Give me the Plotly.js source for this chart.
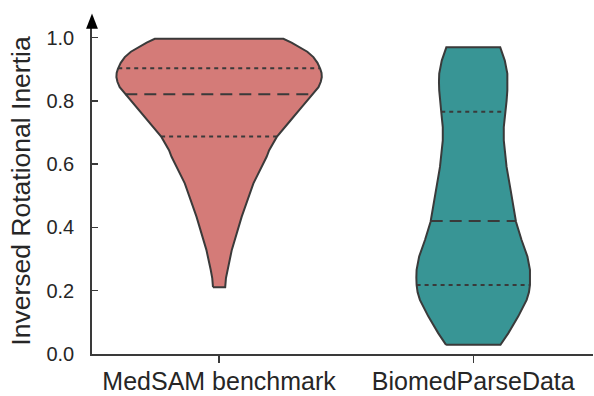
<!DOCTYPE html>
<html>
<head>
<meta charset="utf-8">
<script src="https://cdn.plot.ly/plotly-3.0.1.min.js"></script>
<style>html,body{margin:0;padding:0;background:#fff;overflow:hidden}</style>
</head>
<body>
<div id="chart" style="width:594px;height:396px"></div>
<script>
// Categories
const categories = ["MedSAM benchmark", "BiomedParseData"];

// Density profile: value levels (y) and half-widths (in category units)
const medsamLevels = [0.211, 0.240, 0.266, 0.329, 0.434, 0.539, 0.623, 0.644, 0.686, 0.737, 0.780, 0.819, 0.843, 0.860, 0.875, 0.888, 0.901, 0.920, 0.938, 0.955, 0.969, 0.984, 0.996];
const medsamHalfWidth = [0.024, 0.027, 0.033, 0.050, 0.089, 0.135, 0.187, 0.197, 0.227, 0.280, 0.325, 0.367, 0.391, 0.400, 0.404, 0.403, 0.398, 0.387, 0.371, 0.347, 0.319, 0.285, 0.253];
const medsamQuartiles = [0.687, 0.821, 0.903];

const biomedLevels = [0.029, 0.066, 0.119, 0.171, 0.195, 0.218, 0.242, 0.266, 0.308, 0.360, 0.418, 0.518, 0.591, 0.675, 0.717, 0.765, 0.800, 0.833, 0.860, 0.886, 0.927, 0.950, 0.969];
const biomedHalfWidth = [0.107, 0.138, 0.177, 0.210, 0.219, 0.223, 0.224, 0.223, 0.213, 0.190, 0.168, 0.147, 0.131, 0.120, 0.120, 0.126, 0.131, 0.134, 0.135, 0.134, 0.124, 0.115, 0.106];
const biomedQuartiles = [0.218, 0.420, 0.765];

const yTicks = [0.0, 0.2, 0.4, 0.6, 0.8, 1.0];
const yTickLabels = ["0.0", "0.2", "0.4", "0.6", "0.8", "1.0"];

const fills = ["#d47b78", "#389595"];
const edge = "#3a3a3a";

function interp(levels, widths, v) {
  for (let i = 0; i < levels.length - 1; i++) {
    if (v >= levels[i] && v <= levels[i + 1]) {
      const t = (v - levels[i]) / (levels[i + 1] - levels[i]);
      return widths[i] + t * (widths[i + 1] - widths[i]);
    }
  }
  return widths[widths.length - 1];
}

const profiles = [
  {levels: medsamLevels, hw: medsamHalfWidth, q: medsamQuartiles},
  {levels: biomedLevels, hw: biomedHalfWidth, q: biomedQuartiles}
];

const traces = [];
profiles.forEach((p, i) => {
  const xs = [], ys = [];
  for (let k = 0; k < p.levels.length; k++) { xs.push(i - p.hw[k]); ys.push(p.levels[k]); }
  for (let k = p.levels.length - 1; k >= 0; k--) { xs.push(i + p.hw[k]); ys.push(p.levels[k]); }
  xs.push(xs[0]); ys.push(ys[0]);
  traces.push({
    type: "scatter", mode: "lines", x: xs, y: ys, fill: "toself",
    fillcolor: fills[i], line: {color: edge, width: 2, shape: "linear"},
    hoverinfo: "skip", showlegend: false
  });
  p.q.forEach((qv, j) => {
    const w = interp(p.levels, p.hw, qv);
    traces.push({
      type: "scatter", mode: "lines", x: [i - w, i + w], y: [qv, qv],
      line: {color: edge, width: 2, dash: j === 1 ? "12px,7px" : "4px,4px"},
      hoverinfo: "skip", showlegend: false
    });
  });
});

const layout = {
  width: 594, height: 396,
  margin: {l: 92, r: 1, t: 27.5, b: 41.7, pad: 0},
  paper_bgcolor: "#fff", plot_bgcolor: "#fff",
  font: {family: "Liberation Sans, Arial, sans-serif", color: "#262626"},
  xaxis: {
    range: [-0.5, 1.471], tickvals: [0, 1], ticktext: categories,
    showline: true, linecolor: edge, linewidth: 1.8, showgrid: false, zeroline: false,
    ticks: "outside", ticklen: 7, tickwidth: 1.5, tickcolor: edge,
    tickfont: {size: 25, color: "#262626"}, ticklabelstandoff: -3
  },
  yaxis: {
    range: [0, 1.03], tickvals: yTicks, ticktext: yTickLabels,
    showline: true, linecolor: edge, linewidth: 1.8, showgrid: false, zeroline: false,
    ticks: "inside", ticklen: 6, tickwidth: 1.5, tickcolor: edge,
    tickfont: {size: 20, color: "#262626"}, ticklabelstandoff: 12,
    title: {text: "Inversed Rotational Inertia", font: {size: 26.5, color: "#262626"}, standoff: 8}
  },
  shapes: [{
    type: "path", xref: "paper", yref: "paper",
    path: "M -0.0118 0.998 L 0.0118 0.998 L 0 1.0444 Z",
    fillcolor: "#000", line: {width: 0}
  }]
};

Plotly.newPlot("chart", traces, layout, {staticPlot: true});
</script>
</body>
</html>
